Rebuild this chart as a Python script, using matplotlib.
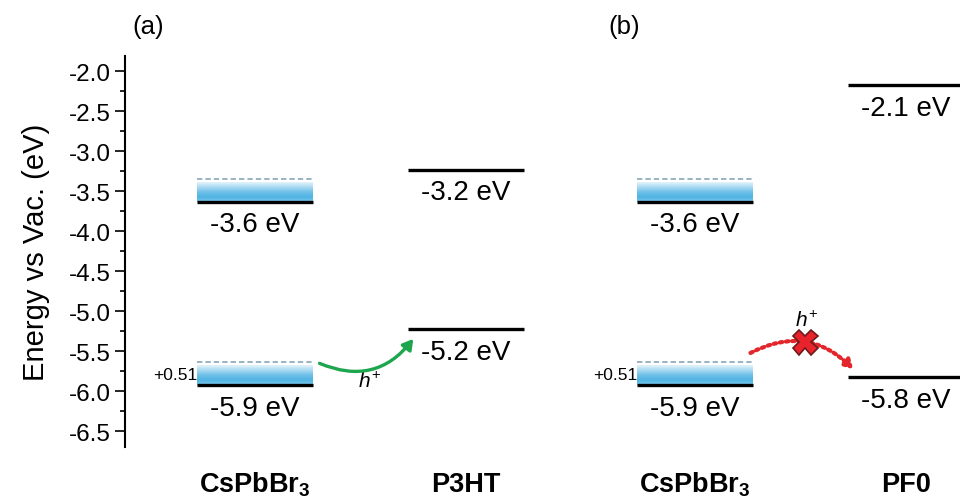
import numpy as np
import matplotlib
matplotlib.use("Agg")
import matplotlib.pyplot as plt
from matplotlib.colors import LinearSegmentedColormap
from matplotlib.patches import FancyArrowPatch
from matplotlib.ticker import MultipleLocator
import matplotlib.transforms as mtransforms

# ---------------- data ----------------
materials = ["CsPbBr$_\\mathbf{3}$", "P3HT", "CsPbBr$_\\mathbf{3}$", "PF0"]
panel_labels = ["(a)", "(b)"]
upper_levels = [-3.63, -3.23, -3.63, -2.17]      # eV (as drawn)
lower_levels = [-5.92, -5.22, -5.92, -5.83]      # eV (as drawn)
upper_labels = ["-3.6 eV", "-3.2 eV", "-3.6 eV", "-2.1 eV"]
lower_labels = ["-5.9 eV", "-5.2 eV", "-5.9 eV", "-5.8 eV"]
is_perovskite = [True, False, True, False]
shift_text = "+0.51"
yticks = [-2.0, -2.5, -3.0, -3.5, -4.0, -4.5, -5.0, -5.5, -6.0, -6.5]

# ---------------- style / layout ----------------
plt.rcParams["font.family"] = ["Liberation Sans", "DejaVu Sans"]
plt.rcParams["axes.unicode_minus"] = False
plt.rcParams["mathtext.fontset"] = "custom"
plt.rcParams["mathtext.rm"] = "Liberation Sans"
plt.rcParams["mathtext.it"] = "Liberation Sans:italic"
plt.rcParams["mathtext.bf"] = "Liberation Sans:bold"

W, H = 960, 502
fig = plt.figure(figsize=(W / 100, H / 100), dpi=100)
ax = fig.add_axes([125 / W, (H - 448) / H, (W - 125) / W, (448 - 57) / H])

col_centers = [255, 466, 695, 906]
half_w = 58
band_h = 0.28
xlim = (125, 960)
ylim = (-6.70, -1.81)

cmap = LinearSegmentedColormap.from_list(
    "band", ["#7cc8ec", "#4fb3e2", "#6fc1e8", "#a9daf2", "#e4f3fb"])
grad = np.linspace(0, 1, 100).reshape(-1, 1)

for i, c in enumerate(col_centers):
    x0, x1 = c - half_w, c + half_w
    for lev, lab in ((upper_levels[i], upper_labels[i]),
                     (lower_levels[i], lower_labels[i])):
        if is_perovskite[i]:
            ax.imshow(grad, cmap=cmap, aspect="auto", origin="lower",
                      extent=[x0, x1, lev, lev + band_h - 0.03], zorder=1,
                      interpolation="bilinear")
            ax.plot([x0, x1], [lev + band_h, lev + band_h], color="#7f9fb2",
                    lw=1.1, ls=(0, (3.5, 2)), zorder=2)
        ax.plot([x0, x1], [lev, lev], color="black", lw=2.4,
                solid_capstyle="butt", zorder=3)
        ax.annotate(lab, (c, lev), xytext=(0, -16.5), textcoords="offset points",
                    ha="center", va="center", fontsize=20)
    if is_perovskite[i]:
        ax.annotate(shift_text, (x0, lower_levels[i] + band_h / 2),
                    xytext=(0, -1), textcoords="offset points",
                    ha="right", va="center", fontsize=12.5)

ax.set_xlim(*xlim)
ax.set_ylim(*ylim)

# category labels below the plot
trans = mtransforms.blended_transform_factory(ax.transData, ax.transAxes)
for c, name in zip(col_centers, materials):
    ax.text(c, -0.095, name, transform=trans, ha="center", va="center",
            fontsize=19.5, fontweight="bold")

# panel labels
for px, lab in zip([148, 624], panel_labels):
    fig.text(px / W, 1 - 27 / H, lab, ha="center", va="center", fontsize=18.5)

# green arrow (hole transfer to P3HT)
a_start = (col_centers[0] + half_w + 4, lower_levels[0] + band_h)
a_end = (col_centers[1] - half_w + 7, lower_levels[1] - 0.10)
green = FancyArrowPatch(a_start, a_end, connectionstyle="arc3,rad=0.4",
                        arrowstyle="-|>,head_length=6,head_width=3.5",
                        color="#1ea64f", lw=2.4, zorder=4)
ax.add_patch(green)
ax.text(369, lower_levels[0] + 0.04, "$\\mathit{h}^{+}$", ha="center",
        va="center", fontsize=15)

# red dotted arrow (blocked hole transfer to PF0)
r_start = (col_centers[2] + half_w - 5, lower_levels[2] + band_h + 0.10)
r_end = (col_centers[3] - half_w + 7, lower_levels[3] + 0.08)
red = FancyArrowPatch(r_start, r_end, connectionstyle="arc3,rad=-0.38",
                      arrowstyle="-|>,head_length=5,head_width=3",
                      color="#e3262b", lw=3.0, linestyle=(0, (0.6, 0.9)),
                      zorder=4)
ax.add_patch(red)
# position of the cross at the curve midpoint (computed in display space)
fig.canvas.draw()
p0 = ax.transData.transform(r_start)
p2 = ax.transData.transform(r_end)
mid = (p0 + p2) / 2
dx, dy = p2 - p0
rad = -0.38
ctrl = np.array([mid[0] + rad * dy, mid[1] - rad * dx])
peak = 0.25 * p0 + 0.5 * ctrl + 0.25 * p2
peak_data = ax.transData.inverted().transform(peak)
ax.plot([peak_data[0]], [peak_data[1]], marker="X", markersize=18,
        markerfacecolor="#e8232b", markeredgecolor="#6e1a1a",
        markeredgewidth=1.2, zorder=5, clip_on=False)
ax.annotate("$\\mathit{h}^{+}$", tuple(peak_data), xytext=(1, 16),
            textcoords="offset points", ha="center", va="center", fontsize=15)

# axes styling
for s in ("top", "right", "bottom"):
    ax.spines[s].set_visible(False)
ax.spines["left"].set_linewidth(1.5)
ax.set_yticks(yticks)
ax.set_yticklabels([f"{v:.1f}" for v in yticks])
ax.yaxis.set_minor_locator(MultipleLocator(0.25))
ax.tick_params(axis="y", which="major", direction="out", length=7, width=1.2,
               labelsize=17.5, pad=3)
ax.tick_params(axis="y", which="minor", direction="out", length=3.5, width=1.2)
ax.set_xticks([])
ax.set_ylabel("Energy vs Vac. (eV)", fontsize=21, labelpad=14)

fig.savefig("out.png", dpi=100)
